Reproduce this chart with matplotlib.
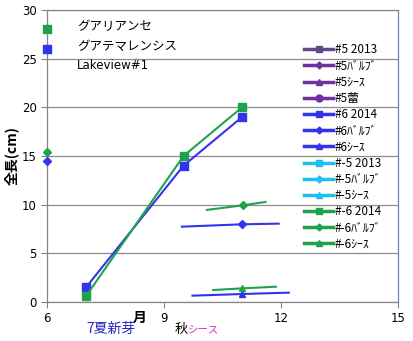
import numpy as np
import matplotlib
matplotlib.use("Agg")
from matplotlib import pyplot as plt
from matplotlib.lines import Line2D

plt.rcParams['font.family'] = ['DejaVu Sans', 'Noto Sans CJK JP']
jp = ['Noto Sans CJK JP', 'DejaVu Sans']

# colours per plant
c5a = '#5F4B8B'
c5 = '#7030A0'
c6 = '#3333EE'
cm5 = '#1EC0F0'
cm6 = '#1FA24F'

# main growth lines (2014)
x_main = [7, 9.5, 11]
y6_2014 = [1.5, 14, 19]
ym6_2014 = [0.6, 15, 20]

# starting sizes in june
x_start = [6]
y6_start = [26]
ym6_start = [28]
y6_bulb_start = [14.5]
ym6_bulb_start = [15.4]

# bulb / sheath short lines, marker at middle point
x6_bulb = [9.46, 11, 11.94]
y6_bulb = [7.74, 7.98, 8.05]
xm6_bulb = [10.1, 11.03, 11.6]
ym6_bulb = [9.46, 9.94, 10.28]
x6_sheath = [9.73, 11, 12.2]
y6_sheath = [0.65, 0.82, 0.96]
xm6_sheath = [10.26, 11, 11.87]
ym6_sheath = [1.23, 1.4, 1.57]

legend_labels = ['#5 2013', '#5ﾊﾞﾙﾌﾞ', '#5ｼｰｽ', '#5蕾',
                 '#6 2014', '#6ﾊﾞﾙﾌﾞ', '#6ｼｰｽ',
                 '#-5 2013', '#-5ﾊﾞﾙﾌﾞ', '#-5ｼｰｽ',
                 '#-6 2014', '#-6ﾊﾞﾙﾌﾞ', '#-6ｼｰｽ']
legend_colors = [c5a, c5, c5, c5, c6, c6, c6, cm5, cm5, cm5, cm6, cm6, cm6]
legend_markers = ['s', 'D', '^', 'o', 's', 'D', '^', 's', 'D', '^', 's', 'D', '^']

fig = plt.figure(figsize=(4.14, 3.41), dpi=100)
ax = fig.add_axes([0.1135, 0.1144, 0.848, 0.8563])

ax.plot(x_main, y6_2014, color=c6, lw=1.5, marker='s', ms=6, zorder=4)
ax.plot(x_main, ym6_2014, color=cm6, lw=1.5, marker='s', ms=6, zorder=4)

ax.plot(x_start, y6_start, ls='none', color=c6, marker='s', ms=6, clip_on=False, zorder=5)
ax.plot(x_start, ym6_start, ls='none', color=cm6, marker='s', ms=6, clip_on=False, zorder=5)
ax.plot(x_start, y6_bulb_start, ls='none', color=c6, marker='D', ms=4.5, clip_on=False, zorder=5)
ax.plot(x_start, ym6_bulb_start, ls='none', color=cm6, marker='D', ms=4.5, clip_on=False, zorder=5)

ax.plot(x6_bulb, y6_bulb, color=c6, lw=1.5, marker='D', ms=4.5, markevery=[1], zorder=4)
ax.plot(xm6_bulb, ym6_bulb, color=cm6, lw=1.5, marker='D', ms=4.5, markevery=[1], zorder=4)
ax.plot(x6_sheath, y6_sheath, color=c6, lw=1.5, marker='^', ms=5, markevery=[1], zorder=4)
ax.plot(xm6_sheath, ym6_sheath, color=cm6, lw=1.5, marker='^', ms=5, markevery=[1], zorder=4)

ax.set_xlim(6, 15)
ax.set_ylim(0, 30)
ax.set_xticks([6, 9, 12, 15])
ax.set_yticks(np.arange(0, 31, 5))
ax.tick_params(axis='both', labelsize=8.5, length=4, color='#868686', width=0.8)
ax.tick_params(axis='x', pad=3)
ax.yaxis.grid(True, color='#8C8C8C', lw=0.9)
ax.set_axisbelow(True)
for s in ['left', 'bottom', 'top']:
    ax.spines[s].set_color('#868686')
    ax.spines[s].set_linewidth(0.9)
ax.spines['right'].set_color('#6A86AE')
ax.spines['right'].set_linewidth(0.9)

ax.set_ylabel('全長(cm)', family=jp, fontsize=10, fontweight='bold', labelpad=2)

ax.text(0.085, 0.942, 'グアリアンセ', transform=ax.transAxes, family=jp, fontsize=9, va='center')
ax.text(0.085, 0.874, 'グアテマレンシス', transform=ax.transAxes, family=jp, fontsize=9, va='center')
ax.text(0.085, 0.81, 'Lakeview#1', transform=ax.transAxes, fontsize=8.5, va='center')

fig.text(140 / 414, 1 - 318 / 341, '月', family=jp, fontsize=10, fontweight='bold', ha='center', va='center')
fig.text(86 / 414, 1 - 329 / 341, '7夏新芽', family=jp, fontsize=10, color='#2626C4', ha='left', va='center')
fig.text(175 / 414, 1 - 329 / 341, '秋', family=jp, fontsize=9.5, ha='left', va='center')
fig.text(188 / 414, 1 - 329 / 341, 'シース', family=jp, fontsize=7.5, color='#D22AD2', ha='left', va='center')

handles = [Line2D([], [], color=c, lw=2.5, marker=m, ms=5 if m != 'D' else 3.5)
           for c, m in zip(legend_colors, legend_markers)]
leg = ax.legend(handles, legend_labels, loc='upper left', bbox_to_anchor=(0.719, 0.902),
                frameon=False, handlelength=2.45, handletextpad=0.15,
                labelspacing=0.27, borderaxespad=0, prop={'family': jp, 'size': 8.5})

fig.savefig('out.png', dpi=100)
